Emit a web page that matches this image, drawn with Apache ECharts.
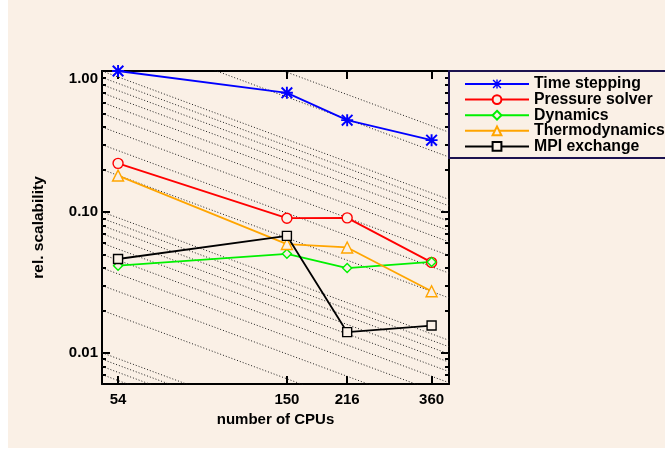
<!DOCTYPE html>
<html><head><meta charset="utf-8">
<script src="https://cdn.jsdelivr.net/npm/echarts@6/dist/echarts.min.js"></script>
<style>
html,body{margin:0;padding:0;background:#fff;}
#c{position:absolute;left:8px;top:0;width:657px;height:448px;background:#FAF0E6;}
</style></head><body><div id="c"></div>
<script>
// ---- data ----
const cpus = [54, 150, 216, 360];
const timeStepping   = [1.0, 0.70, 0.448, 0.323];
const pressureSolver = [0.221, 0.0902, 0.0907, 0.0438];
const dynamics       = [0.0415, 0.0504, 0.0399, 0.0441];
const thermodynamics = [0.181, 0.0591, 0.0559, 0.0273];
const mpiExchange    = [0.0463, 0.0676, 0.0140, 0.0156];
const xTicks = [54, 150, 216, 360];
const yMajorTicks = [0.01, 0.1, 1];
const yMinorTicks = [0.006,0.007,0.008,0.009,0.02,0.03,0.04,0.05,0.06,0.07,0.08,0.09,0.2,0.3,0.4,0.5,0.6,0.7,0.8,0.9];
// ideal-scaling guide lines: value at left edge of the plot
const guideLevels = [0.006,0.007,0.008,0.009,0.01,0.02,0.03,0.04,0.05,0.06,0.07,0.08,0.09,0.1,0.2,0.3,0.4,0.5,0.6,0.7,0.8,0.9,1,2,3];
const xRange = [49, 400];
const yRange = [0.006, 1];

const BG = '#FAF0E6';
const FONT = "'Liberation Sans', Arial, Helvetica, sans-serif";
const txt = {fontFamily: FONT, fontWeight: 'bold', color: '#000', fontSize: 15};
const STAR = 'path://M0 8.4L20 8.4L20 11.6L0 11.6Z M8.4 0L11.6 0L11.6 20L8.4 20Z M0 2.3L2.3 0L20 17.7L17.7 20Z M17.7 0L20 2.3L2.3 20L0 17.7Z';

const chart = echarts.init(document.getElementById('c'), null, {renderer: 'canvas'});

function dataSeries(name, values, color, symbol, size, filled) {
  return {
    type: 'line', name, xAxisIndex: 0, yAxisIndex: 0,
    data: cpus.map((c, i) => [c, values[i]]),
    symbol, symbolSize: size, showSymbol: true,
    lineStyle: {color, width: 1.8},
    itemStyle: filled ? {color, borderWidth: 0} : {color: BG, borderColor: color, borderWidth: 1.4},
    z: 5, clip: false, silent: true
  };
}

const guideSeries = guideLevels.map(v => ({
  type: 'line', xAxisIndex: 0, yAxisIndex: 0, silent: true, symbol: 'none', z: 1,
  data: [[xRange[0], v], [xRange[1], v * xRange[0] / xRange[1]]],
  lineStyle: {color: '#1e1e1e', width: 1, type: [1, 2]}
}));

const axLine = {show: true, lineStyle: {color: '#000', width: 2}};
function xAx(pos, withLabel) {
  return {
    type: 'log', logBase: 10, position: pos, min: xRange[0], max: xRange[1],
    axisLine: axLine,
    axisTick: {show: true, inside: true, length: 8, lineStyle: {color: '#000', width: 2}, customValues: xTicks},
    axisLabel: withLabel ? Object.assign({show: true, customValues: xTicks, margin: 8,
      formatter: v => String(Math.round(v))}, txt) : {show: false},
    splitLine: {show: false}, minorTick: {show: false},
    name: withLabel ? 'number of CPUs' : '', nameLocation: 'middle', nameGap: 24,
    nameTextStyle: txt
  };
}
function yAx(pos, major, withLabel) {
  return {
    type: 'log', logBase: 10, position: pos, min: yRange[0], max: yRange[1],
    axisLine: major ? axLine : {show: false},
    axisTick: {show: true, inside: true, length: major ? 8 : 4,
      lineStyle: {color: '#000', width: 2}, customValues: major ? yMajorTicks : yMinorTicks},
    axisLabel: withLabel ? Object.assign({show: true, customValues: yMajorTicks, margin: 4,
      verticalAlignMaxLabel: 'top',
      formatter: v => v.toFixed(2)}, txt) : {show: false},
    splitLine: {show: false}, minorTick: {show: false},
    name: withLabel ? 'rel. scalability' : '', nameLocation: 'middle', nameRotate: 90, nameGap: 55,
    nameTextStyle: Object.assign({}, txt, {fontSize: 15.5})
  };
}

chart.setOption({
  animation: false,
  backgroundColor: BG,
  grid: {left: 94, right: 216, top: 71, bottom: 64, containLabel: false, outerBoundsMode: 'none'},
  xAxis: [xAx('bottom', true), xAx('top', false)],
  yAxis: [yAx('left', true, true), yAx('left', false, false), yAx('right', true, false), yAx('right', false, false)],
  legend: {
    data: ['Time stepping', 'Pressure solver', 'Dynamics', 'Thermodynamics', 'MPI exchange'],
    orient: 'vertical', left: 456, top: 76, padding: 0, itemGap: -0.4,
    itemWidth: 64, itemHeight: 11, selectedMode: false,
    textStyle: Object.assign({}, txt, {fontSize: 15.8})
  },
  graphic: [{
    type: 'rect', z: 100, silent: true,
    shape: {x: 441, y: 71, width: 300, height: 87},
    style: {fill: 'none', stroke: '#1c1250', lineWidth: 2}
  }],
  series: guideSeries.concat([
    dataSeries('Time stepping', timeStepping, '#0000ff', STAR, 12, true),
    dataSeries('Pressure solver', pressureSolver, '#ff0000', 'circle', 10, false),
    dataSeries('Dynamics', dynamics, '#00f000', 'diamond', 9, false),
    dataSeries('Thermodynamics', thermodynamics, '#ffa500', 'triangle', 11, false),
    dataSeries('MPI exchange', mpiExchange, '#000000', 'rect', 9, false)
  ])
});
</script></body></html>
